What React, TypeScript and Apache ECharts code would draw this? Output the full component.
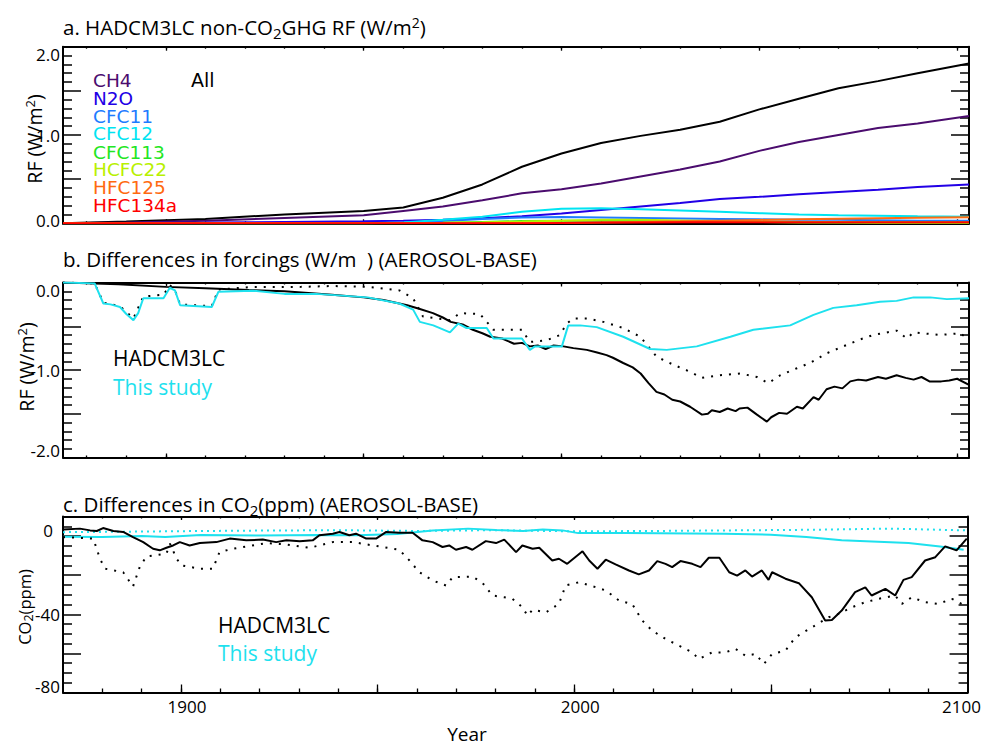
import React, { useEffect, useRef } from "react";
import * as echarts from "echarts";

const FONT = '"Open Sans", "Noto Sans", sans-serif';
const LFONT = '"DejaVu Sans", sans-serif';
const CYAN = "#1EE1EE";

// ---------- Panel a: non-CO2 GHG RF (W/m2) ----------
const aYears = [1874, 1890, 1910, 1930, 1950, 1960, 1970, 1980, 1990, 2000, 2010, 2020, 2030, 2040, 2050, 2060, 2070, 2080, 2090, 2103];
const aAll = [0.0, 0.02, 0.05, 0.1, 0.14, 0.18, 0.29, 0.44, 0.64, 0.79, 0.91, 0.99, 1.06, 1.15, 1.29, 1.41, 1.53, 1.61, 1.7, 1.81];
const aCH4 = [0.0, 0.01, 0.03, 0.06, 0.09, 0.14, 0.19, 0.26, 0.34, 0.385, 0.45, 0.53, 0.61, 0.7, 0.82, 0.92, 1.0, 1.08, 1.13, 1.215];
const aN2O = [0.0, 0.003, 0.008, 0.015, 0.022, 0.03, 0.04, 0.057, 0.08, 0.11, 0.15, 0.19, 0.23, 0.275, 0.3, 0.33, 0.355, 0.38, 0.41, 0.44];
const aCFC11 = [0, 0, 0, 0, 0, 0.005, 0.025, 0.05, 0.065, 0.07, 0.065, 0.06, 0.055, 0.05, 0.045, 0.04, 0.04, 0.035, 0.03, 0.03];
const aCFC12 = [0, 0, 0, 0, 0, 0.01, 0.04, 0.075, 0.13, 0.165, 0.17, 0.16, 0.145, 0.13, 0.115, 0.1, 0.09, 0.085, 0.08, 0.075];
const aCFC113 = [0, 0, 0, 0, 0, 0, 0.005, 0.015, 0.025, 0.03, 0.028, 0.025, 0.022, 0.02, 0.018, 0.015, 0.013, 0.012, 0.011, 0.01];
const aHCFC22 = [0, 0, 0, 0, 0, 0.002, 0.005, 0.012, 0.02, 0.03, 0.04, 0.04, 0.032, 0.025, 0.015, 0.01, 0.008, 0.006, 0.005, 0.005];
const aHFC125 = [0, 0, 0, 0, 0, 0, 0, 0, 0, 0.002, 0.008, 0.015, 0.022, 0.03, 0.038, 0.045, 0.052, 0.058, 0.063, 0.068];
const aHFC134a = [0, 0, 0, 0, 0, 0, 0, 0, 0.001, 0.004, 0.008, 0.01, 0.011, 0.012, 0.012, 0.012, 0.012, 0.012, 0.012, 0.012];
const gasNames = ["CH4", "N2O", "CFC11", "CFC12", "CFC113", "HCFC22", "HFC125", "HFC134a"];
const gasValues = [aCH4, aN2O, aCFC11, aCFC12, aCFC113, aHCFC22, aHFC125, aHFC134a];
const gasColors = ["#4B0C6E", "#2200E6", "#1E7BFF", "#00E4F2", "#22E622", "#B8F000", "#FF6A10", "#FF0000"];

// ---------- Panel b: differences in forcings (W/m2) ----------
const bHad: [number, number][] = [
  [1874, 0.0], [1888, -0.02], [1900, -0.05], [1910, -0.065], [1921, -0.086], [1930, -0.1], [1942, -0.14], [1950, -0.17],
  [1955, -0.2], [1961, -0.26], [1964, -0.3], [1967.5, -0.35], [1970, -0.4], [1972, -0.45], [1975, -0.48], [1977.6, -0.54],
  [1980, -0.58], [1982, -0.62], [1985, -0.64], [1988, -0.7], [1990, -0.69], [1992, -0.73], [1994, -0.72], [1996, -0.76],
  [1998, -0.72], [2000.5, -0.73], [2003, -0.75], [2006.4, -0.77], [2009, -0.8], [2011.4, -0.83], [2013, -0.86], [2015.6, -0.92],
  [2018, -0.97], [2020, -1.04], [2022, -1.15], [2024, -1.25], [2026, -1.28], [2028, -1.34], [2030, -1.36], [2032.5, -1.42],
  [2035.5, -1.51], [2037, -1.5], [2038, -1.46], [2040, -1.48], [2042, -1.44], [2044, -1.47], [2045, -1.44], [2047, -1.43],
  [2049.4, -1.51], [2051.9, -1.59], [2053, -1.54], [2055, -1.49], [2057, -1.5], [2059.5, -1.42], [2061, -1.44], [2063.7, -1.31],
  [2065, -1.34], [2067, -1.22], [2069, -1.19], [2071, -1.21], [2073, -1.13], [2075, -1.11], [2077, -1.12], [2080, -1.08],
  [2082, -1.1], [2084.7, -1.06], [2087, -1.09], [2089, -1.11], [2091, -1.08], [2093, -1.13], [2096, -1.13], [2098, -1.12],
  [2100, -1.1], [2103, -1.17],
];
const bHadDot: [number, number][] = [
  [1874, 0.0], [1882, -0.01], [1884.2, -0.23], [1888.4, -0.27], [1891.8, -0.41], [1894.3, -0.16], [1899.4, -0.14], [1901, -0.03],
  [1902.3, -0.09], [1903.6, -0.25], [1911.6, -0.27], [1913.3, -0.08], [1922, -0.05], [1934, -0.05], [1942, -0.04], [1951, -0.05],
  [1959, -0.09], [1962.5, -0.18], [1965, -0.39], [1971.8, -0.43], [1974.4, -0.35], [1979.4, -0.36], [1982.8, -0.54], [1990, -0.54],
  [1992, -0.68], [1996.3, -0.66], [1999.6, -0.6], [2001.3, -0.47], [2003, -0.41], [2006.4, -0.41], [2010.6, -0.45], [2015.6, -0.52],
  [2019.9, -0.62], [2024.1, -0.85], [2028.3, -0.94], [2032.5, -1.02], [2035.5, -1.09], [2040.1, -1.06], [2045.2, -1.04], [2049.4, -1.08],
  [2052.3, -1.15], [2055.3, -1.06], [2059.5, -0.98], [2062.8, -0.92], [2067, -0.81], [2071.2, -0.73], [2075.5, -0.65], [2078.8, -0.6],
  [2084.7, -0.55], [2087.3, -0.64], [2089, -0.57], [2095.7, -0.6], [2100.7, -0.58], [2103, -0.65],
];
const bStudy: [number, number][] = [
  [1874, 0.0], [1882, -0.01], [1884.2, -0.24], [1886, -0.25], [1888.4, -0.28], [1890, -0.36], [1891.8, -0.43], [1893, -0.35],
  [1894.3, -0.18], [1899.4, -0.18], [1901, -0.06], [1902.3, -0.09], [1903.6, -0.26], [1911.6, -0.28], [1913.3, -0.105], [1922, -0.094],
  [1930, -0.13], [1938, -0.13], [1951, -0.17], [1959, -0.24], [1962.5, -0.31], [1964.2, -0.45], [1967.6, -0.49], [1971.8, -0.57],
  [1973.9, -0.47], [1976, -0.52], [1981.1, -0.52], [1982.8, -0.64], [1990, -0.64], [1992, -0.77], [1993.3, -0.73], [2000.1, -0.73],
  [2001.7, -0.49], [2004.7, -0.49], [2008.9, -0.51], [2015.6, -0.62], [2022.4, -0.76], [2026.6, -0.77], [2034.2, -0.73], [2042.7, -0.62],
  [2048.5, -0.54], [2057.8, -0.49], [2063.7, -0.37], [2068.7, -0.29], [2074.6, -0.26], [2080.5, -0.22], [2084.7, -0.21], [2089, -0.17],
  [2093.2, -0.17], [2097.4, -0.19], [2103, -0.18],
];

// ---------- Panel c: differences in CO2 (ppm) ----------
const cHad: [number, number][] = [
  [1870.1, 3.3], [1874.3, 3.8], [1876.9, 2.9], [1878.6, 2.6], [1880.2, 4.1], [1882.8, 2.6], [1885.3, 2.1], [1887.8, -0.5],
  [1890.4, -3.1], [1892.9, -6.5], [1894.6, -7.3], [1896.3, -6], [1898, -4.8], [1899.7, -3.1], [1902.2, -4.8], [1904.8, -3.6],
  [1909, -3.1], [1912.4, -1.3], [1916.6, -2.2], [1920.8, -1.8], [1924.2, -3.1], [1926.8, -2.2], [1930.2, -2.7], [1933.5, -2.2],
  [1935.2, 0.4], [1938.6, 1.2], [1940.3, 2.1], [1942.8, 0.4], [1944.5, 1.2], [1947.1, -1.3], [1949.6, -1.3], [1952.2, 2.1],
  [1955.5, 1.7], [1958.9, 1.7], [1961.4, -2.2], [1964, -3.1], [1966.5, -5.6], [1968.2, -4.8], [1969.9, -7], [1972.5, -5.6],
  [1974.1, -7], [1977.5, -2.6], [1980.1, -3.6], [1982.2, -1.8], [1985.2, -8.2], [1986.8, -4.8], [1989.4, -6.5], [1991.1, -6],
  [1994.4, -12.5], [1996.1, -11.6], [1998.2, -14.2], [2002.1, -7.8], [2003.8, -12.5], [2005.9, -16.7], [2008, -12.1], [2010.5, -14.5],
  [2013.9, -17.6], [2016.4, -19.6], [2019, -17.6], [2021.1, -12.8], [2023.2, -14.2], [2024.9, -15.9], [2027, -12.8], [2030, -14.2],
  [2032.1, -15.9], [2034.2, -11.1], [2036.9, -11.1], [2039.4, -18.5], [2041.4, -20.2], [2043.5, -17.6], [2045.2, -20.7], [2047.7, -17.6],
  [2049.4, -22.4], [2050.3, -18.5], [2053.7, -21.8], [2057.1, -24.1], [2060.4, -31.3], [2063.8, -43.2], [2065.5, -42.9], [2068, -38.1],
  [2071.4, -28.7], [2074, -26.2], [2075.6, -30.4], [2079.1, -27], [2081.6, -30.4], [2083.7, -22.4], [2085.8, -21], [2089.2, -12.5],
  [2091.8, -10.8], [2094.3, -5.3], [2097.2, -7.3], [2099.8, -1.3],
];
const cHadDot: [number, number][] = [
  [1870, -0.5], [1877.7, -1.3], [1879.4, -11.6], [1880.7, -16.7], [1885.3, -18.5], [1887.8, -25.8], [1889.5, -15.9], [1891.2, -10.4],
  [1896.3, -9], [1897.2, -3.9], [1898.9, -11.6], [1900.1, -15], [1904.8, -16.7], [1908.1, -16.7], [1909.8, -8.2], [1913.2, -6.5],
  [1921.7, -3.6], [1926.8, -4.3], [1932.7, -6], [1938.6, -3.1], [1943.7, -3.1], [1948.8, -4.8], [1955.5, -7], [1958.1, -12.5],
  [1960.6, -18.5], [1964, -22.7], [1967.4, -25.3], [1969.1, -21], [1974.1, -20.7], [1976.7, -24], [1979.2, -30.4], [1982.2, -31.3],
  [1984.3, -32.1], [1986.8, -36.4], [1988.1, -40.7], [1989.4, -37.7], [1992.8, -39], [1996.1, -34.7], [1997.8, -25.3], [2001.2, -23.6],
  [2005.5, -26.2], [2008, -27.8], [2011.4, -33], [2014.7, -34.7], [2017.3, -43.2], [2019.8, -48.4], [2023.2, -52.6], [2026.6, -56],
  [2030, -59.5], [2031.7, -62.9], [2035, -59.5], [2038.4, -59.5], [2041, -57.7], [2043.5, -61.2], [2046.1, -60.3], [2048.2, -65.4],
  [2050.3, -60.3], [2053.7, -58.6], [2056.2, -51.8], [2060.4, -46.7], [2064.7, -41.5], [2067.2, -39.8], [2070.6, -36.4], [2074, -33.8],
  [2077.4, -32.1], [2081.6, -30.4], [2083.3, -34.7], [2085.8, -31.3], [2089.2, -33.8], [2092.6, -34.7], [2096, -32.1], [2098.5, -34.7],
  [2100, -34],
];
const cStudy: [number, number][] = [
  [1870, -0.3], [1880, -0.5], [1890, 0], [1896, -0.5], [1905, 0.5], [1920, 0.3], [1935, 0.6], [1945, 0.4], [1955, 1.0],
  [1964, 2.9], [1973, 3.8], [1980, 3.1], [1987, 2.6], [1992, 3.4], [1997, 2.9], [2001, 1.5], [2013, 1.5], [2038, 1.2],
  [2050, 0.7], [2059, -0.5], [2068, -2.2], [2085, -3.6], [2093, -5.3], [2099, -7],
];
const cStudyDot: [number, number][] = [
  [1870, 2.0], [1885, 2.2], [1900, 2.5], [1920, 2.8], [1940, 3.0], [1960, 2.6], [1980, 3.0], [2000, 2.4], [2020, 2.6],
  [2040, 2.9], [2060, 3.2], [2080, 3.8], [2100, 2.9],
];

// ---------- axis ticks & labels ----------
const abXRange = [1874, 2103];
const cXRange = [1870, 2100];
const abXMinor = [1880, 1890, 1900, 1910, 1920, 1930, 1940, 1950, 1960, 1970, 1980, 1990, 2000, 2010, 2020, 2030, 2040, 2050, 2060, 2070, 2080, 2090, 2100];
const abXMajor = [1900, 1950, 2000, 2050, 2100];
const cXMinor = [1880, 1890, 1900, 1910, 1920, 1930, 1940, 1950, 1960, 1970, 1980, 1990, 2000, 2010, 2020, 2030, 2040, 2050, 2060, 2070, 2080, 2090];
const cXMajor = [1900, 1950, 2000, 2050];
const cXLabels = [1900, 2000, 2100];
const aYMinor = [0.1, 0.2, 0.3, 0.4, 0.6, 0.7, 0.8, 0.9, 1.1, 1.2, 1.3, 1.4, 1.6, 1.7, 1.8, 1.9];
const aYMajor = [0.5, 1.0, 1.5];
const aYLabels = [0, 1, 2];
const bYMinor = [-1.9, -1.8, -1.7, -1.6, -1.4, -1.3, -1.2, -1.1, -0.9, -0.8, -0.7, -0.6, -0.4, -0.3, -0.2, -0.1];
const bYMajor = [-1.5, -1.0, -0.5];
const bYLabels = [0, -1, -2];
const cYMinor = [-75, -70, -65, -55, -50, -45, -35, -30, -25, -15, -10, -5, 5];
const cYMajor = [-60, -40, -20, 0];
const cYLabels = [0, -40, -80];

const BLACK = "#000";

function richSet(size: number) {
  const base = { fontSize: size, fontFamily: FONT, color: BLACK };
  return {
    n: { ...base },
    r12: { ...base, padding: [0, 0, 0, 12] },
    l12: { ...base, padding: [0, 12, 0, 0] },
    t16: { ...base, padding: [16, 0, 0, 0] },
    t15: { ...base, padding: [15, 0, 0, 0] },
    b6: { ...base, padding: [0, 0, 6, 0] },
    b11: { ...base, padding: [0, 7, 11, 0] },
    b12: { ...base, padding: [0, 0, 12, 0] },
    b15: { ...base, padding: [0, 0, 15, 0] },
  };
}

function xAxes(grid: number, range: number[], major: number[], minor: number[], lens: number[], label: any) {
  const base = { type: "value", gridIndex: grid, min: range[0], max: range[1], splitLine: { show: false } };
  const line = { show: true, onZero: false, lineStyle: { color: BLACK, width: 2 } };
  const mk = (pos: string, vals: number[], len: number, withLine: boolean, lab: any) => ({
    ...base,
    position: pos,
    axisLine: withLine ? line : { show: false, onZero: false },
    axisTick: { show: true, inside: true, length: len, customValues: vals, lineStyle: { color: BLACK, width: 1.3 } },
    axisLabel: lab || { show: false },
  });
  return [
    mk("bottom", major, lens[0], true, label),
    mk("bottom", minor, lens[1], false, null),
    mk("top", major, lens[2], true, null),
    mk("top", minor, lens[3], false, null),
  ];
}

function yAxes(grid: number, range: number[], major: number[], minor: number[], label: any) {
  const base = { type: "value", gridIndex: grid, min: range[0], max: range[1], splitLine: { show: false } };
  const line = { show: true, onZero: false, lineStyle: { color: BLACK, width: 2 } };
  const mk = (pos: string, vals: number[], len: number, withLine: boolean, lab: any) => ({
    ...base,
    position: pos,
    axisLine: withLine ? line : { show: false, onZero: false },
    axisTick: { show: true, inside: true, length: len, customValues: vals, lineStyle: { color: BLACK, width: 1.5 } },
    axisLabel: lab || { show: false },
  });
  return [
    mk("left", major, 18, true, label),
    mk("left", minor, 9, false, null),
    mk("right", major, 18, true, null),
    mk("right", minor, 9, false, null),
  ];
}

function lineSeries(name: string, data: number[][], axis: number, color: string, width: number, type: any, z: number) {
  return {
    name,
    type: "line",
    xAxisIndex: axis,
    yAxisIndex: axis,
    data,
    symbol: "none",
    smooth: false,
    z,
    lineStyle: { color, width, type },
  };
}

function txt(x: number, y: number, text: string, fill: string, size: number, font = FONT, extra: any = {}) {
  return {
    type: "text",
    x,
    y,
    z: 100,
    style: { text, fill, fontSize: size, fontFamily: font, align: "left", verticalAlign: "middle", ...extra },
  };
}

export default function App() {
  const ref = useRef<HTMLDivElement>(null);
  useEffect(() => {
    if (!ref.current) return;
    const chart = echarts.init(ref.current, null, { renderer: "svg" });

    const xLabC = {
      show: true,
      customValues: cXLabels,
      margin: 5,
      fontSize: 17,
      fontFamily: FONT,
      color: BLACK,
      formatter: (v: number) => (v === 2100 ? `{l12|${v}}` : `{r12|${v}}`),
      rich: richSet(17),
    };
    const yLab = (fmt: (v: number) => string, vals: number[]) => ({
      show: true,
      customValues: vals,
      margin: 3,
      fontSize: 17,
      fontFamily: FONT,
      color: BLACK,
      formatter: fmt,
      rich: richSet(17),
    });
    const yLabA = yLab((v) => (v === 2 ? "{t16|2.0}" : v === 0 ? "{b6|0.0}" : "{n|1.0}"), aYLabels);
    const yLabB = yLab((v) => (v === 0 ? "{t15|0.0}" : v === -2 ? "{b15|-2.0}" : "{n|-1.0}"), bYLabels);
    const yLabC = yLab((v) => (v === 0 ? "{b11|0}" : v === -80 ? "{b12|-80}" : "{n|-40}"), cYLabels);

    const series: any[] = [];
    series.push(lineSeries("All", aYears.map((y, i) => [y, aAll[i]]), 0, BLACK, 2, "solid", 2));
    gasNames.forEach((g, k) => {
      series.push(lineSeries(g, aYears.map((y, i) => [y, gasValues[k][i]]), 0, gasColors[k], 2, "solid", 3 + k));
    });
    series.push(lineSeries("HADCM3LC total", bHadDot, 4, BLACK, 2, [2, 7], 2));
    series.push(lineSeries("HADCM3LC", bHad, 4, BLACK, 2, "solid", 3));
    series.push(lineSeries("This study", bStudy, 4, CYAN, 2, "solid", 4));
    series.push(lineSeries("This study total", cStudyDot, 8, CYAN, 2, [2, 4], 2));
    series.push(lineSeries("This study CO2", cStudy, 8, CYAN, 2, "solid", 3));
    series.push(lineSeries("HADCM3LC total CO2", cHadDot, 8, BLACK, 2, [2, 7], 4));
    series.push(lineSeries("HADCM3LC CO2", cHad, 8, BLACK, 2, "solid", 5));

    const titleRich = {
      t: { fontSize: 20.5, fontFamily: FONT, fill: BLACK },
      s: { fontSize: 15, fontFamily: FONT, fill: BLACK, padding: [11, 0, 0, 0] },
      p: { fontSize: 14, fontFamily: FONT, fill: BLACK, padding: [0, 0, 9, 0] },
    };
    const nameRich = {
      t: { fontSize: 19.5, fontFamily: FONT, fill: BLACK },
      p: { fontSize: 13, fontFamily: FONT, fill: BLACK, padding: [0, 0, 9, 0] },
    };

    const graphic: any[] = [
      { type: "text", x: 63, y: 27, z: 100, style: { text: "{t|a. HADCM3LC non-CO}{s|2}{t|GHG RF (W/m}{p|2}{t|)}", rich: titleRich, align: "left", verticalAlign: "middle" } },
      txt(63, 259, "b. Differences in forcings (W/m  ) (AEROSOL-BASE)", BLACK, 20.5),
      { type: "text", x: 63, y: 504, z: 100, style: { text: "{t|c. Differences in CO}{s|2}{t|(ppm) (AEROSOL-BASE)}", rich: titleRich, align: "left", verticalAlign: "middle" } },
      { type: "text", x: 34, y: 139, rotation: Math.PI / 2, z: 100, style: { text: "{t|RF (W/m}{p|2}{t|)}", rich: nameRich, align: "center", verticalAlign: "middle" } },
      { type: "text", x: 26, y: 367, rotation: Math.PI / 2, z: 100, style: { text: "{t|RF (W/m}{p|2}{t|)}", rich: nameRich, align: "center", verticalAlign: "middle" } },
      {
        type: "text", x: 24, y: 607, rotation: Math.PI / 2, z: 100,
        style: {
          text: "{t|CO}{s|2}{t|(ppm)}",
          rich: {
            t: { fontSize: 16.5, fontFamily: FONT, fill: BLACK },
            s: { fontSize: 12.5, fontFamily: FONT, fill: BLACK, padding: [9, 0, 0, 0] },
          },
          align: "center", verticalAlign: "middle",
        },
      },
      txt(191, 80, "All", BLACK, 19, LFONT, { lineHeight: 17 }),
      txt(113, 358, "HADCM3LC", BLACK, 21),
      txt(113, 387, "This study", CYAN, 21),
      txt(218, 625, "HADCM3LC", BLACK, 21),
      txt(218, 653, "This study", CYAN, 21),
      txt(467, 734, "Year", BLACK, 19, FONT, { align: "center" }),
    ];
    const legendY = [80, 98, 116, 133, 152, 169, 187, 205];
    gasNames.forEach((g, k) => graphic.push(txt(93, legendY[k], g, gasColors[k], 18.5, LFONT, { lineHeight: 17 })));

    chart.setOption({
      animation: false,
      backgroundColor: "#fff",
      grid: [
        { left: 63, top: 46.7, width: 906, height: 176.6 },
        { left: 63, top: 282.5, width: 906, height: 175 },
        { left: 63, top: 516.5, width: 906, height: 176 },
      ],
      xAxis: [
        ...xAxes(0, abXRange, abXMajor, abXMinor, [4, 2, 4, 2], null),
        ...xAxes(1, abXRange, abXMajor, abXMinor, [4, 2, 4, 2], null),
        ...xAxes(2, cXRange, cXMajor, cXMinor, [8, 4, 3.5, 2], xLabC),
      ],
      yAxis: [
        ...yAxes(0, [0, 2], aYMajor, aYMinor, yLabA),
        ...yAxes(1, [-2, 0], bYMajor, bYMinor, yLabB),
        ...yAxes(2, [-80, 10], cYMajor, cYMinor, yLabC),
      ],
      series,
      graphic,
    });
    return () => chart.dispose();
  }, []);
  return <div ref={ref} style={{ position: "fixed", left: 0, top: 0, width: 984, height: 746, background: "#fff" }} />;
}
